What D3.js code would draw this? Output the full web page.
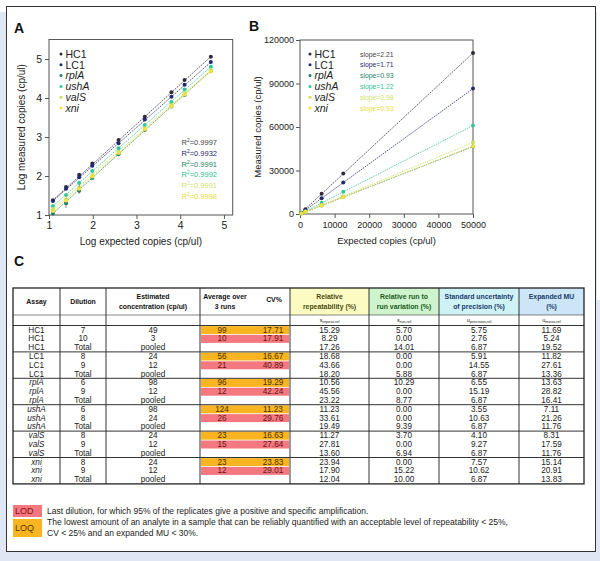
<!DOCTYPE html>
<html>
<head>
<meta charset="utf-8">
<script src="https://cdn.jsdelivr.net/npm/d3@7"></script>
<style>
body { margin: 0; background: #fff; }
svg { display: block; font-family: "Liberation Sans", Arial, sans-serif; }
</style>
</head>
<body>
<script>
const width = 600;
const height = 561;

// ---- data: panel A (log scale calibration) ----
const seriesNames = ["HC1", "LC1", "rplA", "ushA", "valS", "xni"];
const italicNames = [false, false, true, true, true, true];
const seriesColors = ["#2f2a3a", "#1f2873", "#1d7f68", "#34c896", "#c6df5c", "#eee23e"];
const labelColors = ["#444444", "#1f2873", "#1d7f68", "#2fbf8f", "#cfe36a", "#e6dc3a"];

const logExpected = [1.09, 1.39, 1.69, 1.99, 2.59, 3.19, 3.80, 4.10, 4.70];
const logHC1 = [1.38, 1.72, 2.03, 2.32, 2.92, 3.52, 4.15, 4.46, 5.06];
const logLC1 = [1.36, 1.67, 1.97, 2.26, 2.84, 3.45, 4.03, 4.34, 4.92];
const logRplA = [1.04, 1.30, 1.62, 1.95, 2.56, 3.18, 3.78, 4.08, 4.70];
const logUshA = [1.23, 1.51, 1.83, 2.13, 2.71, 3.31, 3.90, 4.22, 4.80];
const logValS = [1.15, 1.40, 1.70, 2.02, 2.62, 3.22, 3.82, 4.12, 4.71];
const logXni = [1.10, 1.37, 1.67, 1.99, 2.59, 3.20, 3.79, 4.09, 4.68];
const sdRplA = [0.06, 0.12, 0.06, 0.03, 0.02, 0.02, 0.02, 0.02, 0.02];
const sdXni = [0.05, 0.06, 0.12, 0.04, 0.02, 0.02, 0.02, 0.02, 0.02];
const rSquared = ["0.9997", "0.9932", "0.9991", "0.9992", "0.9991", "0.9998"];

// ---- data: panel B (linear scale) ----
const expectedB = [390, 1562, 6250, 12500, 50000];
const measHC1 = [860, 3300, 14000, 28000, 111000];
const measLC1 = [700, 2600, 10800, 21800, 86500];
const measRplA = [370, 1450, 5900, 11700, 46500];
const measUshA = [500, 1900, 7700, 15300, 61000];
const measValS = [400, 1600, 6200, 12300, 49300];
const measXni = [380, 1500, 5800, 11600, 46800];
const slopes = ["2.21", "1.71", "0.93", "1.22", "0.98", "0.93"];

// ---- data: panel C (table) ----
const dilutions = [["7", "10", "Total"], ["8", "9", "Total"], ["6", "9", "Total"],
                   ["6", "8", "Total"], ["8", "9", "Total"], ["8", "9", "Total"]];
const estConc = [["49", "3", "pooled"], ["24", "12", "pooled"], ["98", "12", "pooled"],
                 ["98", "24", "pooled"], ["24", "12", "pooled"], ["24", "12", "pooled"]];
const avgRuns = [["99", "10"], ["56", "21"], ["96", "12"], ["124", "26"], ["23", "15"], ["23", "12"]];
const cvPct = [["17.71", "17.91"], ["16.67", "40.89"], ["19.29", "42.24"],
               ["11.23", "29.76"], ["16.63", "27.64"], ["23.83", "29.01"]];
const relRepeat = [["15.29", "8.29", "17.26"], ["18.68", "43.66", "18.20"], ["10.56", "45.56", "23.22"],
                   ["11.23", "33.61", "19.49"], ["11.27", "27.81", "13.60"], ["23.94", "17.90", "12.04"]];
const relRun = [["5.70", "0.00", "14.01"], ["0.00", "0.00", "5.88"], ["10.29", "0.00", "8.77"],
                ["0.00", "0.00", "9.39"], ["3.70", "0.00", "6.94"], ["0.00", "15.22", "10.00"]];
const stdUnc = [["5.75", "2.76", "6.87"], ["5.91", "14.55", "6.87"], ["6.55", "15.19", "6.87"],
                ["3.55", "10.63", "6.87"], ["4.10", "9.27", "6.87"], ["7.57", "10.62", "6.87"]];
const expMU = [["11.69", "5.24", "19.52"], ["11.82", "27.61", "13.36"], ["13.63", "28.82", "16.41"],
               ["7.11", "21.26", "11.76"], ["8.31", "17.59", "11.76"], ["15.14", "20.91", "13.83"]];

const logSeries = [logHC1, logLC1, logRplA, logUshA, logValS, logXni];
const sdSeries = [null, null, sdRplA, null, null, sdXni];
const linSeries = [measHC1, measLC1, measRplA, measUshA, measValS, measXni];

const svg = d3.select("body").append("svg")
    .attr("width", width)
    .attr("height", height);

// background + panel frame
svg.append("rect").attr("x", 0).attr("y", 12).attr("width", 597).attr("height", height - 12)
    .attr("fill", "#dfe7f5");
svg.append("rect").attr("x", 0).attr("y", 300).attr("width", width).attr("height", height - 300)
    .attr("fill", "#dfe7f5");
svg.append("rect").attr("x", 6.5).attr("y", 6.5).attr("width", 589).attr("height", 545)
    .attr("fill", "#fff").attr("stroke", "#333").attr("stroke-width", 1);

function panelLetter(t, x, y) {
    svg.append("text").attr("x", x).attr("y", y).text(t)
        .attr("font-size", 14).attr("font-weight", "bold").attr("fill", "#111");
}
panelLetter("A", 14, 33);
panelLetter("B", 249, 31);
panelLetter("C", 14, 266);

function styleAxis(g, size) {
    g.select(".domain").remove();
    g.selectAll("line").attr("stroke", "#555");
    g.selectAll("text").attr("font-size", size).attr("fill", "#222")
        .attr("font-family", "Liberation Sans, Arial, sans-serif");
}

// ---------------- Panel A ----------------
const xA = d3.scaleLinear().domain([1, 5.2]).range([49, 232.7]);
const yA = d3.scaleLinear().domain([1, 5.5]).range([215, 39.5]);

const gA = svg.append("g");
gA.append("g").attr("transform", `translate(0,${yA(1)})`)
    .call(d3.axisBottom(xA).tickValues([1, 2, 3, 4, 5]).tickSize(4).tickPadding(3).tickFormat(d3.format("d")))
    .call(g => styleAxis(g, 10.5));
gA.append("g").attr("transform", `translate(${xA(1)},0)`)
    .call(d3.axisLeft(yA).tickValues([1, 2, 3, 4, 5]).tickSize(4).tickPadding(3).tickFormat(d3.format("d")))
    .call(g => styleAxis(g, 10.5));
gA.append("rect")
    .attr("x", xA(1)).attr("y", yA(5.5))
    .attr("width", xA(5.2) - xA(1)).attr("height", yA(1) - yA(5.5))
    .attr("fill", "none").attr("stroke", "#555").attr("stroke-width", 1);

gA.append("text").attr("x", (xA(1) + xA(5.2)) / 2).attr("y", 245)
    .attr("text-anchor", "middle").attr("font-size", 10).attr("fill", "#222")
    .text("Log expected copies (cp/ul)");
gA.append("text").attr("transform", `translate(25,${(yA(1) + yA(5.5)) / 2}) rotate(-90)`)
    .attr("text-anchor", "middle").attr("font-size", 10).attr("fill", "#222")
    .text("Log measured copies (cp/ul)");

seriesNames.forEach((name, i) => {
    const pts = logExpected.map((x, j) => ({ x: x, y: logSeries[i][j], sd: sdSeries[i] ? sdSeries[i][j] : 0 }));
    const first = pts[0], last = pts[pts.length - 1];
    gA.append("line")
        .attr("x1", xA(first.x)).attr("y1", yA(first.y))
        .attr("x2", xA(last.x)).attr("y2", yA(last.y))
        .attr("stroke", seriesColors[i]).attr("stroke-width", 0.8)
        .attr("stroke-dasharray", "1.5,1");
    gA.append("g").selectAll("line").data(pts.filter(d => d.sd > 0)).enter().append("line")
        .attr("x1", d => xA(d.x)).attr("x2", d => xA(d.x))
        .attr("y1", d => yA(d.y - d.sd)).attr("y2", d => yA(d.y + d.sd))
        .attr("stroke", "#666").attr("stroke-width", 0.7);
    gA.append("g").selectAll("circle").data(pts).enter().append("circle")
        .attr("cx", d => xA(d.x)).attr("cy", d => yA(d.y)).attr("r", 2)
        .attr("fill", seriesColors[i]);
});

// legend A
seriesNames.forEach((name, i) => {
    const y = 54 + i * 10.8;
    gA.append("circle").attr("cx", 61).attr("cy", y).attr("r", 1.5).attr("fill", seriesColors[i]);
    gA.append("text").attr("x", 65.5).attr("y", y + 3.8).text(name)
        .attr("font-size", 10.5).attr("fill", "#222")
        .attr("font-style", italicNames[i] ? "italic" : "normal");
});

// R^2 labels
rSquared.forEach((r, i) => {
    const t = gA.append("text").attr("x", 217).attr("y", 145 + i * 10.8)
        .attr("text-anchor", "end").attr("font-size", 7.5).attr("fill", labelColors[i]);
    t.append("tspan").text("R");
    t.append("tspan").text("2").attr("font-size", 5).attr("dy", -3);
    t.append("tspan").text("=" + r).attr("dy", 3);
});

// ---------------- Panel B ----------------
const xB = d3.scaleLinear().domain([0, 50000]).range([300, 473]);
const yB = d3.scaleLinear().domain([0, 120000]).range([214, 40]);

const gB = svg.append("g");
gB.append("g").attr("transform", `translate(0,${yB(0)})`)
    .call(d3.axisBottom(xB).tickValues([0, 10000, 20000, 30000, 40000, 50000]).tickSize(4).tickPadding(4).tickFormat(d3.format("d")))
    .call(g => styleAxis(g, 9));
gB.append("g").attr("transform", `translate(${xB(0)},0)`)
    .call(d3.axisLeft(yB).tickValues([0, 30000, 60000, 90000, 120000]).tickSize(4).tickPadding(2).tickFormat(d3.format("d")))
    .call(g => styleAxis(g, 9));
gB.append("rect")
    .attr("x", xB(0)).attr("y", yB(120000))
    .attr("width", xB(50000) - xB(0)).attr("height", yB(0) - yB(120000))
    .attr("fill", "none").attr("stroke", "#555").attr("stroke-width", 1);

gB.append("text").attr("x", (xB(0) + xB(50000)) / 2).attr("y", 244)
    .attr("text-anchor", "middle").attr("font-size", 9.5).attr("fill", "#222")
    .text("Expected copies (cp/ul)");
gB.append("text").attr("transform", `translate(261,${(yB(0) + yB(120000)) / 2}) rotate(-90)`)
    .attr("text-anchor", "middle").attr("font-size", 9.5).attr("fill", "#222")
    .text("Measured copies (cp/ul)");

seriesNames.forEach((name, i) => {
    const pts = expectedB.map((x, j) => ({ x: x, y: linSeries[i][j] }));
    const last = pts[pts.length - 1];
    gB.append("line")
        .attr("x1", xB(0)).attr("y1", yB(0))
        .attr("x2", xB(last.x)).attr("y2", yB(last.y))
        .attr("stroke", seriesColors[i]).attr("stroke-width", 0.8)
        .attr("stroke-dasharray", "1.5,1");
    gB.append("g").selectAll("circle").data(pts).enter().append("circle")
        .attr("cx", d => xB(d.x)).attr("cy", d => yB(d.y)).attr("r", 2)
        .attr("fill", seriesColors[i]);
});

seriesNames.forEach((name, i) => {
    const y = 54 + i * 10.8;
    gB.append("circle").attr("cx", 310).attr("cy", y).attr("r", 1.5).attr("fill", seriesColors[i]);
    gB.append("text").attr("x", 314.5).attr("y", y + 3.8).text(name)
        .attr("font-size", 10.5).attr("fill", "#222")
        .attr("font-style", italicNames[i] ? "italic" : "normal");
    gB.append("text").attr("x", 360).attr("y", y + 2.5).text("slope=" + slopes[i])
        .attr("font-size", 6.8).attr("fill", labelColors[i]);
});

// ---------------- Panel C (table) ----------------
const colX = [13, 60, 106, 200, 290, 369, 439, 519, 584];
const tTop = 288, headBot = 315, subBot = 325.5, rowH = 8.8;
const groupH = rowH * 3;
const tBot = subBot + groupH * seriesNames.length;
const gC = svg.append("g");

const headFills = [null, null, null, null, "#fcfcc2", "#cdf4cd", "#cff2f6", "#cce6f7"];
const headColors = ["#111", "#111", "#111", "#111", "#4a4a10", "#1d5a1d", "#1b3b6b", "#1b3b6b"];
const headLines = [["Assay"], ["Dilution"], ["Estimated", "concentration (cp/ul)"], ["Average over", "3 runs"],
                   ["Relative", "repeatability (%)"], ["Relative run to", "run variation (%)"],
                   ["Standard uncertainty", "of precision (%)"], ["Expanded MU", "(%)"]];
const subSym = ["s", "s", "u", "u"];
const subIdx = ["repeat,rel", "run,rel", "precision,rel", "meas,rel"];

headFills.forEach((f, c) => {
    if (!f) return;
    gC.append("rect").attr("x", colX[c]).attr("y", tTop)
        .attr("width", colX[c + 1] - colX[c]).attr("height", headBot - tTop).attr("fill", f);
});

headLines.forEach((lines, c) => {
    const cx = c === 3 ? 225 : (colX[c] + colX[c + 1]) / 2;
    const y0 = lines.length === 1 ? 304 : 299;
    lines.forEach((l, k) => {
        gC.append("text").attr("x", cx).attr("y", y0 + k * 10).text(l)
            .attr("text-anchor", "middle").attr("font-size", 6.9).attr("font-weight", "bold")
            .attr("fill", headColors[c]);
    });
});
gC.append("text").attr("x", 274).attr("y", 302).text("CV%")
    .attr("text-anchor", "middle").attr("font-size", 6.9).attr("font-weight", "bold").attr("fill", "#111");

subSym.forEach((s, k) => {
    const c = k + 4;
    const t = gC.append("text").attr("x", (colX[c] + colX[c + 1]) / 2).attr("y", 321.5)
        .attr("text-anchor", "middle").attr("font-size", 5.5).attr("fill", "#222");
    t.append("tspan").text(s);
    t.append("tspan").text(subIdx[k]).attr("font-size", 4).attr("dy", 1);
});

// data rows
seriesNames.forEach((name, g) => {
    const top = subBot + g * groupH;
    [0, 1].forEach(r => {
        gC.append("rect").attr("x", colX[3] + 1).attr("y", top + r * rowH + 0.6)
            .attr("width", colX[4] - colX[3] - 2).attr("height", rowH - 0.8)
            .attr("fill", r === 0 ? "#f9b521" : "#f3787f");
    });
    for (let r = 0; r < 3; r++) {
        const y = top + r * rowH + 7.1;
        const cells = [
            [name, (colX[0] + colX[1]) / 2, italicNames[g]],
            [dilutions[g][r], (colX[1] + colX[2]) / 2, false],
            [estConc[g][r], (colX[2] + colX[3]) / 2, false],
            [relRepeat[g][r], (colX[4] + colX[5]) / 2, false],
            [relRun[g][r], (colX[5] + colX[6]) / 2, false],
            [stdUnc[g][r], (colX[6] + colX[7]) / 2, false],
            [expMU[g][r], (colX[7] + colX[8]) / 2, false]
        ];
        if (r < 2) {
            const tc = r === 0 ? "#4a3000" : "#6a1414";
            cells.push([avgRuns[g][r], 222, false, tc]);
            cells.push([cvPct[g][r], 273, false, tc]);
        }
        cells.forEach(c => {
            gC.append("text").attr("x", c[1]).attr("y", y).text(c[0])
                .attr("text-anchor", "middle").attr("font-size", 8.2)
                .attr("font-style", c[2] ? "italic" : "normal")
                .attr("fill", c[3] || "#222");
        });
    }
});

// grid lines
const hLines = [headBot, subBot].concat(d3.range(1, seriesNames.length).map(i => subBot + i * groupH));
hLines.forEach((y, i) => {
    gC.append("line").attr("x1", colX[0]).attr("x2", colX[8]).attr("y1", y).attr("y2", y)
        .attr("stroke", "#333").attr("stroke-width", i === 0 ? 0.6 : 1);
});
colX.slice(1, -1).forEach(x => {
    gC.append("line").attr("x1", x).attr("x2", x).attr("y1", tTop).attr("y2", tBot)
        .attr("stroke", "#333").attr("stroke-width", 1);
});
gC.append("rect").attr("x", colX[0]).attr("y", tTop)
    .attr("width", colX[8] - colX[0]).attr("height", tBot - tTop)
    .attr("fill", "none").attr("stroke", "#222").attr("stroke-width", 1.3);

// LOD / LOQ legend
const legendBoxes = [
    { label: "LOD", fill: "#f3787f", color: "#8a1010", y: 505, h: 12 },
    { label: "LOQ", fill: "#f9b521", color: "#5a3a00", y: 519, h: 18 }
];
legendBoxes.forEach(b => {
    gC.append("rect").attr("x", 13).attr("y", b.y).attr("width", 29).attr("height", b.h).attr("fill", b.fill);
    gC.append("text").attr("x", 15).attr("y", b.y + b.h / 2 + 3.2).text(b.label)
        .attr("font-size", 9).attr("fill", b.color);
});
const legendText = [
    "Last dilution, for which 95% of the replicates give a positive and specific amplification.",
    "The lowest amount of an analyte in a sample that can be reliably quantified with an acceptable level of repeatability < 25%,",
    "CV < 25% and an expanded MU < 30%."
];
legendText.forEach((t, i) => {
    gC.append("text").attr("x", 47).attr("y", 514 + i * 11).text(t)
        .attr("font-size", 8.5).attr("fill", "#222");
});
</script>
</body>
</html>
